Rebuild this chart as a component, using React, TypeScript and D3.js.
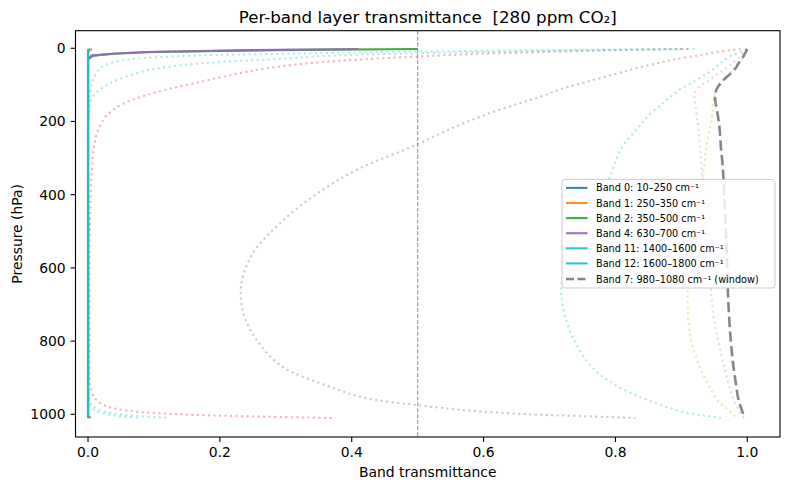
import * as d3 from 'd3'

// pressure levels (hPa), shared by every band profile
const pressure = [2, 5, 10, 15, 20, 30, 40, 55, 70, 90, 110, 130, 150, 180, 220, 270, 330, 400, 480, 560, 640, 720, 800, 870, 920, 955, 975, 990, 1000, 1005, 1010]

// highlighted bands (solid)
const band0 = [0.003, 0.001, 0, 0, 0, 0, 0, 0, 0, 0, 0, 0, 0, 0, 0, 0, 0, 0, 0, 0, 0, 0, 0, 0, 0, 0, 0, 0, 0, 0, 0.001]
const band1 = [0.006, 0.002, 0, 0, 0, 0, 0, 0, 0, 0, 0, 0, 0, 0, 0, 0, 0, 0, 0, 0, 0, 0, 0, 0, 0, 0, 0, 0, 0, 0, 0.002]
const band2 = [0.5, 0.28, 0.1, 0.04, 0.008, 0, 0, 0, 0, 0, 0, 0, 0, 0, 0, 0, 0, 0, 0, 0, 0, 0, 0, 0, 0, 0, 0, 0, 0, 0, 0.001]
const band4 = [0.41, 0.25, 0.085, 0.035, 0.005, 0, 0, 0, 0, 0, 0, 0, 0, 0, 0, 0, 0, 0, 0, 0, 0, 0, 0, 0, 0, 0, 0, 0, 0, 0, 0.004]
const band11 = [0.002, 0.001, 0, 0, 0, 0, 0, 0, 0, 0, 0, 0, 0, 0, 0, 0, 0, 0, 0, 0, 0, 0, 0, 0, 0, 0, 0, 0, 0, 0, 0.001]
const band12 = [0.001, 0, 0, 0, 0, 0, 0, 0, 0, 0, 0, 0, 0, 0, 0, 0, 0, 0, 0, 0, 0, 0, 0, 0, 0, 0, 0, 0, 0, 0, 0]

// window band (dashed)
const band7 = [1.0, 0.999, 0.998, 0.996, 0.995, 0.991, 0.987, 0.982, 0.974, 0.962, 0.954, 0.951, 0.952, 0.955, 0.958, 0.96, 0.963, 0.965, 0.967, 0.969, 0.97, 0.972, 0.975, 0.979, 0.983, 0.986, 0.989, 0.992, 0.994, 0.995, 0.996]

// other bands (faint, dotted)
const band3 = [0.91, 0.8, 0.7, 0.6, 0.53, 0.42, 0.34, 0.27, 0.225, 0.175, 0.125, 0.085, 0.055, 0.03, 0.016, 0.009, 0.006, 0.004, 0.003, 0.002, 0.002, 0.002, 0.002, 0.002, 0.003, 0.01, 0.024, 0.06, 0.14, 0.23, 0.37]
const band5 = [0.99, 0.975, 0.955, 0.94, 0.925, 0.89, 0.865, 0.83, 0.8, 0.76, 0.72, 0.69, 0.655, 0.605, 0.55, 0.49, 0.41, 0.345, 0.29, 0.25, 0.233, 0.235, 0.257, 0.295, 0.36, 0.42, 0.5, 0.58, 0.67, 0.75, 0.83]
const band6 = [0.999, 0.998, 0.996, 0.993, 0.99, 0.985, 0.978, 0.968, 0.955, 0.94, 0.924, 0.92, 0.921, 0.923, 0.926, 0.928, 0.931, 0.934, 0.937, 0.94, 0.944, 0.948, 0.956, 0.965, 0.972, 0.978, 0.983, 0.988, 0.991, 0.993, 0.995]
const band8 = [0.999, 0.998, 0.997, 0.996, 0.995, 0.992, 0.988, 0.98, 0.972, 0.962, 0.954, 0.95, 0.948, 0.947, 0.943, 0.938, 0.934, 0.927, 0.92, 0.914, 0.91, 0.91, 0.915, 0.928, 0.941, 0.952, 0.962, 0.972, 0.978, 0.981, 0.984]
const band9 = [0.999, 0.997, 0.99, 0.983, 0.975, 0.967, 0.96, 0.95, 0.938, 0.92, 0.9, 0.885, 0.872, 0.852, 0.833, 0.81, 0.796, 0.78, 0.755, 0.73, 0.718, 0.722, 0.738, 0.764, 0.8, 0.84, 0.87, 0.895, 0.92, 0.94, 0.96]
const band10 = [0.9, 0.7, 0.46, 0.3, 0.16, 0.065, 0.035, 0.018, 0.012, 0.007, 0.0045, 0.002, 0.001, 0.0005, 0, 0, 0, 0, 0, 0, 0, 0, 0, 0, 0, 0.001, 0.003, 0.01, 0.03, 0.05, 0.08]
const band13 = [0.92, 0.78, 0.6, 0.47, 0.37, 0.28, 0.18, 0.105, 0.07, 0.04, 0.02, 0.008, 0.003, 0.001, 0, 0, 0, 0, 0, 0, 0, 0, 0, 0, 0, 0.002, 0.006, 0.02, 0.05, 0.08, 0.12]

const faintBands = [band3, band5, band6, band8, band9, band10, band13]
const faintColors = ['#d62728', '#8c564b', '#e377c2', '#bcbd22', '#17becf', '#17becf', '#17becf']

const shownBands = [band0, band1, band2, band4, band11, band12]
const shownColors = ['#1f77b4', '#ff7f0e', '#2ca02c', '#9467bd', '#17becf', '#17becf']
const shownLabels = ['Band 0: 10–250 cm⁻¹', 'Band 1: 250–350 cm⁻¹', 'Band 2: 350–500 cm⁻¹', 'Band 4: 630–700 cm⁻¹', 'Band 11: 1400–1600 cm⁻¹', 'Band 12: 1600–1800 cm⁻¹']
const windowLabel = 'Band 7: 980–1080 cm⁻¹ (window)'

const xTicks = [0, 0.2, 0.4, 0.6, 0.8, 1.0]
const yTicks = [0, 200, 400, 600, 800, 1000]

const FONT = 'DejaVu Sans, sans-serif'

export default function App() {
    const left = 75.5, right = 780, top = 30.7, bottom = 437

    const x = d3.scaleLinear().domain([-0.019, 1.0496]).range([left, right])
    const y = d3.scaleLinear().domain([-48, 1062]).range([top, bottom])

    const pts = (vals: number[]) => vals.map((v, i) => [v, pressure[i]] as [number, number])

    const smooth = d3.line<[number, number]>()
        .x(d => x(d[0]))
        .y(d => y(d[1]))
        .curve(d3.curveCatmullRom.alpha(0.5))

    const straight = d3.line<[number, number]>()
        .x(d => x(d[0]))
        .y(d => y(d[1]))

    const legX = 562, legY = 179.4, legW = 213, legH = 108.6
    const rowY = (i: number) => legY + 8.5 + i * 15.1

    return (
        <svg width={790} height={490} style={{ position: 'absolute', left: 0, top: 0, background: '#fff' }}
            fontFamily={FONT}>
            <rect x={0} y={0} width={790} height={490} fill="#fff" />

            {/* faint bands */}
            {faintBands.map((b, i) => (
                <path key={'f' + i} d={smooth(pts(b)) || ''} fill="none" stroke={faintColors[i]}
                    strokeOpacity={0.35} strokeWidth={2.08} strokeDasharray="2.08,3.44" />
            ))}

            {/* reference line at 0.5 */}
            <line x1={x(0.5)} x2={x(0.5)} y1={top} y2={bottom} stroke="#808080" strokeOpacity={0.8}
                strokeWidth={1.1} strokeDasharray="4.1,1.8" />

            {/* highlighted bands */}
            {shownBands.map((b, i) => (
                <path key={'s' + i} d={straight(pts(b)) || ''} fill="none" stroke={shownColors[i]}
                    strokeOpacity={0.9} strokeWidth={2.08} />
            ))}

            {/* window band */}
            <path d={smooth(pts(band7)) || ''} fill="none" stroke="#7f7f7f" strokeOpacity={0.95}
                strokeWidth={2.6} strokeDasharray="10.3,4.4" />

            {/* axes frame */}
            <rect x={left} y={top} width={right - left} height={bottom - top} fill="none" stroke="#000" strokeWidth={1.1} />

            {xTicks.map(t => (
                <g key={'x' + t}>
                    <line x1={x(t)} x2={x(t)} y1={bottom} y2={bottom + 4.9} stroke="#000" strokeWidth={1.1} />
                    <text x={x(t)} y={457} fontSize={13.9} textAnchor="middle">{t.toFixed(1)}</text>
                </g>
            ))}
            {yTicks.map(t => (
                <g key={'y' + t}>
                    <line x1={left - 4.9} x2={left} y1={y(t)} y2={y(t)} stroke="#000" strokeWidth={1.1} />
                    <text x={left - 9.8} y={y(t) + 5} fontSize={13.9} textAnchor="end">{t}</text>
                </g>
            ))}

            <text x={(left + right) / 2} y={22.5} fontSize={16.7} textAnchor="middle" style={{ whiteSpace: 'pre' }}>
                {'Per-band layer transmittance  [280 ppm CO₂]'}
            </text>
            <text x={(left + right) / 2} y={477} fontSize={13.9} textAnchor="middle">Band transmittance</text>
            <text transform={`translate(21.5, ${(top + bottom) / 2}) rotate(-90)`} fontSize={13.9} textAnchor="middle">Pressure (hPa)</text>

            {/* legend */}
            <rect x={legX} y={legY} width={legW} height={legH} rx={2.8} fill="#fff" fillOpacity={0.8}
                stroke="#cccccc" strokeWidth={1} />
            {shownLabels.map((lab, i) => (
                <g key={'l' + i}>
                    <line x1={566} x2={587.5} y1={rowY(i)} y2={rowY(i)} stroke={shownColors[i]} strokeOpacity={0.9} strokeWidth={2.08} />
                    <text x={596} y={rowY(i) + 3.5} fontSize={9.7}>{lab}</text>
                </g>
            ))}
            <line x1={566} x2={587.5} y1={rowY(6) + 0.5} y2={rowY(6) + 0.5} stroke="#7f7f7f" strokeOpacity={0.95}
                strokeWidth={2.6} strokeDasharray="8,3.5" />
            <text x={596} y={rowY(6) + 4} fontSize={9.7}>{windowLabel}</text>
        </svg>
    )
}
